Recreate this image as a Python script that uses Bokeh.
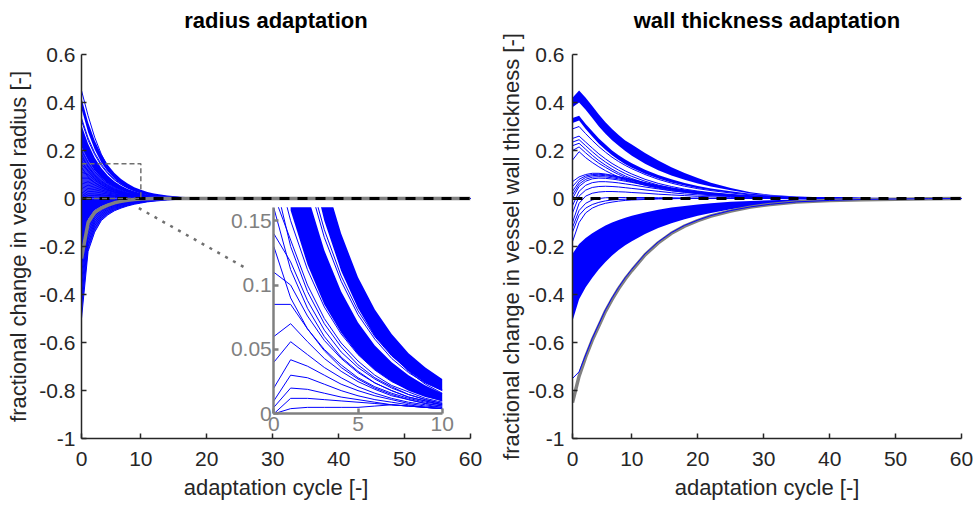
from bokeh.plotting import figure
from bokeh.models import Range1d, LinearAxis, FixedTicker, BoxAnnotation
from bokeh.layouts import row
from bokeh.embed import file_html
from bokeh.resources import INLINE

# ---------------- data ----------------
# radius adaptation: cycle positions (axis tick "0" sits at cycle position 1)
RX = [1, 2, 3, 4, 5, 6, 7, 8, 9, 10, 11, 12, 14, 16, 20, 60]
r_top = [0.45, 0.345, 0.255, 0.185, 0.133, 0.095, 0.067, 0.047, 0.033, 0.023, 0.016, 0.011, 0.005, 0.002, 0, 0]
r_bandA_hi = [0.418, 0.318, 0.242, 0.184, 0.140, 0.106, 0.081, 0.062, 0.047, 0.036, 0.027, 0.021, 0.012, 0.007, 0.002, 0]
r_bandA_lo = [0.374, 0.276, 0.204, 0.150, 0.111, 0.082, 0.060, 0.045, 0.033, 0.024, 0.018, 0.013, 0.007, 0.004, 0.001, 0]
r_B1 = [0.335, 0.252, 0.19, 0.143, 0.107, 0.080, 0.060, 0.045, 0.034, 0.025, 0.019, 0.014, 0.008, 0.004, 0.001, 0]
r_B2 = [0.325, 0.243, 0.183, 0.137, 0.103, 0.077, 0.058, 0.043, 0.032, 0.024, 0.018, 0.013, 0.007, 0.004, 0.001, 0]
r_bandC_hi = [0.305, 0.228, 0.170, 0.127, 0.095, 0.071, 0.053, 0.040, 0.030, 0.022, 0.016, 0.012, 0.007, 0.004, 0.001, 0]
r_bandC_lo = [0.215, 0.158, 0.116, 0.085, 0.063, 0.046, 0.034, 0.025, 0.018, 0.013, 0.010, 0.007, 0.004, 0.002, 0.001, 0]
r_F1 = [0.20, 0.15, 0.112, 0.083, 0.062, 0.046, 0.034, 0.025, 0.019, 0.014, 0.010, 0.008, 0.004, 0.002, 0.001, 0]
r_F2 = [0.17, 0.135, 0.10, 0.074, 0.055, 0.041, 0.030, 0.022, 0.017, 0.012, 0.009, 0.007, 0.004, 0.002, 0.001, 0]
r_F3 = [0.14, 0.118, 0.088, 0.065, 0.048, 0.036, 0.027, 0.020, 0.015, 0.011, 0.008, 0.006, 0.003, 0.002, 0, 0]
r_F4 = [0.11, 0.10, 0.076, 0.057, 0.043, 0.032, 0.024, 0.018, 0.013, 0.010, 0.007, 0.005, 0.003, 0.001, 0, 0]
r_F5 = [0.085, 0.085, 0.066, 0.050, 0.038, 0.028, 0.021, 0.016, 0.012, 0.009, 0.007, 0.005, 0.003, 0.001, 0, 0]
r_F6 = [0.06, 0.07, 0.056, 0.043, 0.033, 0.025, 0.019, 0.014, 0.011, 0.008, 0.006, 0.004, 0.002, 0.001, 0, 0]
r_F7 = [0.04, 0.056, 0.046, 0.036, 0.028, 0.021, 0.016, 0.012, 0.009, 0.007, 0.005, 0.004, 0.002, 0.001, 0, 0]
r_F8 = [0.02, 0.042, 0.037, 0.030, 0.023, 0.018, 0.014, 0.011, 0.008, 0.006, 0.005, 0.003, 0.002, 0.001, 0, 0]
r_F9 = [0.01, 0.03, 0.028, 0.023, 0.018, 0.014, 0.011, 0.009, 0.007, 0.005, 0.004, 0.003, 0.002, 0.001, 0, 0]
r_F10 = [0.005, 0.02, 0.019, 0.016, 0.013, 0.011, 0.009, 0.007, 0.006, 0.005, 0.004, 0.003, 0.002, 0.001, 0, 0]
r_F11 = [0.0, 0.012, 0.012, 0.011, 0.010, 0.009, 0.008, 0.007, 0.006, 0.005, 0.004, 0.003, 0.002, 0.001, 0, 0]
r_F12 = [0.0, 0.004, 0.005, 0.005, 0.005, 0.005, 0.006, 0.007, 0.006, 0.005, 0.004, 0.003, 0.002, 0.001, 0, 0]
r_F13 = [0.13, 0.09, 0.066, 0.049, 0.036, 0.027, 0.020, 0.015, 0.011, 0.008, 0.006, 0.005, 0.002, 0.001, 0, 0]
r_F14 = [0.16, 0.112, 0.082, 0.060, 0.044, 0.033, 0.024, 0.018, 0.013, 0.010, 0.007, 0.005, 0.003, 0.001, 0, 0]
r_F15 = [0.185, 0.13, 0.095, 0.07, 0.052, 0.038, 0.028, 0.021, 0.015, 0.011, 0.008, 0.006, 0.003, 0.001, 0, 0]
r_N1 = [-0.5, -0.22, -0.14, -0.092, -0.068, -0.051, -0.04, -0.031, -0.024, -0.019, -0.014, -0.011, -0.006, -0.003, -0.001, 0]
r_N2 = [-0.45, -0.20, -0.125, -0.083, -0.061, -0.046, -0.036, -0.028, -0.021, -0.016, -0.012, -0.009, -0.005, -0.002, 0, 0]
r_N3 = [-0.41, -0.185, -0.113, -0.075, -0.055, -0.041, -0.032, -0.025, -0.019, -0.014, -0.011, -0.008, -0.004, -0.002, 0, 0]
r_N4 = [-0.37, -0.17, -0.102, -0.068, -0.049, -0.037, -0.028, -0.022, -0.017, -0.013, -0.01, -0.007, -0.004, -0.002, 0, 0]
r_N5 = [-0.34, -0.155, -0.092, -0.061, -0.044, -0.033, -0.025, -0.019, -0.015, -0.011, -0.008, -0.006, -0.003, -0.001, 0, 0]
r_N6 = [-0.31, -0.14, -0.082, -0.054, -0.039, -0.029, -0.022, -0.017, -0.013, -0.01, -0.007, -0.005, -0.003, -0.001, 0, 0]
r_N7 = [-0.28, -0.125, -0.073, -0.048, -0.035, -0.026, -0.019, -0.015, -0.011, -0.008, -0.006, -0.004, -0.002, -0.001, 0, 0]
r_N8 = [-0.26, -0.112, -0.065, -0.044, -0.031, -0.022, -0.016, -0.012, -0.009, -0.007, -0.005, -0.003, -0.002, -0.001, 0, 0]
r_bandN_lo = [-0.22, -0.085, -0.048, -0.032, -0.022, -0.015, -0.01, -0.006, -0.004, -0.002, -0.001, 0, 0, 0, 0, 0]
r_zero = [0, 0, 0, 0, 0, 0, 0, 0, 0, 0, 0, 0, 0, 0, 0, 0]
r_ref = [-0.25, -0.10, -0.058, -0.04, -0.028, -0.018, -0.012, -0.007, -0.004, -0.002, -0.001, 0, 0, 0, 0, 0]

# wall thickness adaptation
WX = [1, 2, 3, 4, 5, 6, 7, 8, 9, 10, 12, 14, 16, 18, 20, 22, 25, 28, 31, 35, 40, 45, 50, 55, 60]
w_bandA_hi = [0.42, 0.45, 0.42, 0.385, 0.35, 0.318, 0.29, 0.265, 0.242, 0.225, 0.19, 0.158, 0.13, 0.106, 0.085, 0.066, 0.044, 0.026, 0.016, 0.008, 0.004, 0.002, 0.001, 0, 0]
w_bandA_lo = [0.38, 0.40, 0.37, 0.335, 0.30, 0.27, 0.243, 0.22, 0.198, 0.178, 0.145, 0.118, 0.096, 0.078, 0.063, 0.05, 0.034, 0.021, 0.013, 0.007, 0.003, 0.001, 0, 0, 0]
w_bandB_hi = [0.335, 0.345, 0.31, 0.28, 0.25, 0.225, 0.20, 0.18, 0.162, 0.147, 0.12, 0.098, 0.08, 0.065, 0.052, 0.042, 0.03, 0.02, 0.013, 0.007, 0.003, 0.001, 0, 0, 0]
w_bandB_lo = [0.315, 0.325, 0.29, 0.258, 0.228, 0.203, 0.18, 0.16, 0.143, 0.128, 0.103, 0.083, 0.067, 0.054, 0.043, 0.034, 0.024, 0.016, 0.01, 0.005, 0.002, 0.001, 0, 0, 0]
w_C1 = [0.25, 0.26, 0.235, 0.21, 0.186, 0.165, 0.146, 0.13, 0.115, 0.102, 0.08, 0.063, 0.05, 0.039, 0.031, 0.024, 0.017, 0.011, 0.007, 0.004, 0.002, 0.001, 0, 0, 0]
w_C2 = [0.235, 0.245, 0.22, 0.195, 0.172, 0.152, 0.134, 0.118, 0.104, 0.092, 0.072, 0.056, 0.044, 0.034, 0.027, 0.021, 0.014, 0.009, 0.006, 0.003, 0.001, 0, 0, 0, 0]
w_C3 = [0.16, 0.195, 0.17, 0.15, 0.132, 0.116, 0.102, 0.09, 0.079, 0.07, 0.055, 0.043, 0.033, 0.026, 0.02, 0.016, 0.011, 0.007, 0.004, 0.002, 0.001, 0, 0, 0, 0]
w_C4 = [0.22, 0.23, 0.205, 0.18, 0.158, 0.139, 0.122, 0.107, 0.094, 0.083, 0.065, 0.05, 0.039, 0.03, 0.023, 0.018, 0.012, 0.008, 0.005, 0.002, 0.001, 0, 0, 0, 0]
w_C5 = [0.29, 0.30, 0.27, 0.242, 0.216, 0.193, 0.172, 0.154, 0.138, 0.124, 0.1, 0.08, 0.064, 0.051, 0.041, 0.033, 0.023, 0.015, 0.01, 0.005, 0.002, 0.001, 0, 0, 0]
w_C6 = [0.2, 0.215, 0.19, 0.167, 0.147, 0.13, 0.114, 0.1, 0.088, 0.078, 0.061, 0.047, 0.037, 0.028, 0.022, 0.017, 0.011, 0.007, 0.004, 0.002, 0.001, 0, 0, 0, 0]
w_D1 = [0.07, 0.09, 0.10, 0.105, 0.105, 0.102, 0.097, 0.091, 0.085, 0.079, 0.066, 0.054, 0.044, 0.035, 0.028, 0.022, 0.015, 0.01, 0.006, 0.003, 0.001, 0, 0, 0, 0]
w_D2 = [0.03, 0.07, 0.088, 0.095, 0.097, 0.095, 0.091, 0.086, 0.08, 0.074, 0.062, 0.051, 0.041, 0.033, 0.026, 0.02, 0.014, 0.009, 0.006, 0.003, 0.001, 0, 0, 0, 0]
w_D3 = [0.0, 0.05, 0.072, 0.082, 0.085, 0.084, 0.081, 0.077, 0.072, 0.067, 0.056, 0.046, 0.037, 0.03, 0.024, 0.019, 0.013, 0.008, 0.005, 0.002, 0.001, 0, 0, 0, 0]
w_D4 = [-0.03, 0.03, 0.055, 0.066, 0.07, 0.07, 0.068, 0.065, 0.061, 0.057, 0.048, 0.04, 0.032, 0.026, 0.021, 0.016, 0.011, 0.007, 0.004, 0.002, 0.001, 0, 0, 0, 0]
w_D5 = [-0.06, 0.01, 0.035, 0.046, 0.05, 0.051, 0.05, 0.048, 0.045, 0.042, 0.036, 0.03, 0.024, 0.019, 0.015, 0.012, 0.008, 0.005, 0.003, 0.001, 0, 0, 0, 0, 0]
w_D6 = [-0.1, -0.02, 0.01, 0.022, 0.027, 0.029, 0.029, 0.028, 0.027, 0.025, 0.022, 0.018, 0.015, 0.012, 0.009, 0.007, 0.005, 0.003, 0.002, 0.001, 0, 0, 0, 0, 0]
w_D7 = [-0.12, -0.05, -0.02, -0.006, 0.0, 0.003, 0.004, 0.004, 0.004, 0.004, 0.004, 0.003, 0.003, 0.002, 0.002, 0.001, 0.001, 0, 0, 0, 0, 0, 0, 0, 0]
w_D8 = [-0.14, -0.07, -0.04, -0.025, -0.016, -0.01, -0.006, -0.004, -0.003, -0.002, -0.001, 0, 0, 0, 0, 0, 0, 0, 0, 0, 0, 0, 0, 0, 0]
w_D9 = [-0.18, -0.1, -0.06, -0.04, -0.028, -0.02, -0.015, -0.011, -0.008, -0.006, -0.004, -0.002, -0.001, 0, 0, 0, 0, 0, 0, 0, 0, 0, 0, 0, 0]
w_D10 = [0.05, 0.08, 0.094, 0.1, 0.101, 0.099, 0.094, 0.089, 0.083, 0.077, 0.064, 0.052, 0.042, 0.034, 0.027, 0.021, 0.014, 0.009, 0.006, 0.003, 0.001, 0, 0, 0, 0]
w_D11 = [0.015, 0.06, 0.08, 0.089, 0.091, 0.09, 0.086, 0.082, 0.076, 0.07, 0.059, 0.048, 0.039, 0.031, 0.025, 0.02, 0.013, 0.009, 0.005, 0.003, 0.001, 0, 0, 0, 0]
w_bandN_hi = [-0.23, -0.19, -0.165, -0.145, -0.128, -0.113, -0.10, -0.09, -0.08, -0.072, -0.058, -0.047, -0.038, -0.031, -0.025, -0.02, -0.014, -0.01, -0.007, -0.004, -0.002, -0.001, 0, 0, 0]
w_bandN_lo = [-0.51, -0.42, -0.37, -0.33, -0.295, -0.265, -0.238, -0.215, -0.195, -0.178, -0.148, -0.123, -0.103, -0.086, -0.072, -0.06, -0.045, -0.034, -0.025, -0.017, -0.01, -0.006, -0.003, -0.001, 0]
w_edge = [-0.75, -0.722, -0.652, -0.583, -0.523, -0.464, -0.414, -0.37, -0.33, -0.295, -0.231, -0.181, -0.142, -0.112, -0.09, -0.071, -0.05, -0.035, -0.024, -0.014, -0.008, -0.004, -0.002, -0.001, 0]
w_ref = [-0.85, -0.74, -0.66, -0.59, -0.53, -0.47, -0.42, -0.375, -0.335, -0.30, -0.235, -0.185, -0.145, -0.115, -0.092, -0.073, -0.052, -0.036, -0.025, -0.015, -0.008, -0.005, -0.003, -0.001, 0]

ZERO_X = [1, 60]
ZERO_Y = [0, 0]

# tick positions / labels
X_TICKS = [1, 10, 20, 30, 40, 50, 60]
X_LABELS = ["0", "10", "20", "30", "40", "50", "60"]
Y_TICKS = [-1, -0.8, -0.6, -0.4, -0.2, 0, 0.2, 0.4, 0.6]
Y_LABELS = ["-1", "-0.8", "-0.6", "-0.4", "-0.2", "0", "0.2", "0.4", "0.6"]
INSET_X_TICKS = [1, 6, 11]
INSET_X_LABELS = ["0", "5", "10"]
INSET_Y_TICKS = [0, 0.05, 0.1, 0.15]
INSET_Y_LABELS = ["0", "0.05", "0.1", "0.15"]

# ---------------- layout / style ----------------
FONT = "Liberation Sans"
BLUE = "#0000ff"
GRAY = "#808080"
AXC = "#262626"
H = 505
FW, FH = 389, 384
BT, BB = 54, 67
TITLE_GAP = 22  # px between title text box and frame top

INSET_X = (1, 11)
INSET_Y = (0, 0.1605)
INSET_L, INSET_R, INSET_T, INSET_B = 192.3, 360.7, 152.7, 359.3  # px inside frame
ZOOM_BOX = (1, 10, 0, 0.145)
CONNECT = ((9.7, -0.04), (25.9, -0.29))


def style_axis(ax, color, width, size, ticks, labels, standoff):
    ax.ticker = FixedTicker(ticks=ticks)
    ax.major_label_overrides = {t: l for t, l in zip(ticks, labels)}
    ax.axis_line_color = color
    ax.axis_line_width = width
    ax.major_tick_line_color = color
    ax.major_tick_line_width = width
    ax.major_tick_in = 5
    ax.major_tick_out = 0
    ax.minor_tick_line_color = None
    ax.major_label_text_font = FONT
    ax.major_label_text_font_size = size
    ax.major_label_text_color = color
    ax.major_label_standoff = standoff


def make_fig(title, ylabel, width, bl, br, ystand, ylab_stand):
    p = figure(width=width, height=H, x_range=Range1d(1, 60), y_range=Range1d(-1, 0.6),
               output_backend="svg", toolbar_location=None,
               min_border_left=bl, min_border_right=br,
               min_border_top=BT, min_border_bottom=BB)
    p.outline_line_color = None
    p.xgrid.visible = False
    p.ygrid.visible = False
    xa, ya = p.below[0], p.left[0]
    style_axis(xa, AXC, 1.5, "21px", X_TICKS, X_LABELS, 13)
    style_axis(ya, AXC, 1.5, "21px", Y_TICKS, Y_LABELS, ystand)
    for ax, lab, st in ((xa, "adaptation cycle [-]", 6), (ya, ylabel, ylab_stand)):
        ax.axis_label = lab
        ax.axis_label_text_font = FONT
        ax.axis_label_text_font_size = "22px"
        ax.axis_label_text_font_style = "normal"
        ax.axis_label_text_color = AXC
        ax.axis_label_standoff = st
    # panel title: label of a bare axis above the frame (exact vertical placement)
    ta = LinearAxis(ticker=FixedTicker(ticks=[]), axis_line_color=None,
                    major_tick_line_color=None, minor_tick_line_color=None,
                    major_tick_in=0, major_tick_out=0, minor_tick_in=0, minor_tick_out=0,
                    major_label_standoff=0, major_label_text_font_size="0px",
                    axis_label=title, axis_label_standoff=TITLE_GAP,
                    axis_label_text_font=FONT, axis_label_text_font_size="22px",
                    axis_label_text_font_style="bold", axis_label_text_color="black")
    p.add_layout(ta, "above")
    return p


# ---------------- radius panel ----------------
p1 = make_fig("radius adaptation", "fractional change in vessel radius [-]", 489, 81, 19, 6, 5)

# inset ranges mapped onto a sub-rectangle of the frame
sx = (INSET_X[1] - INSET_X[0]) / (INSET_R - INSET_L)
sy = (INSET_Y[1] - INSET_Y[0]) / (INSET_B - INSET_T)
ix = Range1d(INSET_X[0] - INSET_L * sx, INSET_X[0] + (FW - INSET_L) * sx)
iy = Range1d(INSET_Y[0] - (FH - INSET_B) * sy, INSET_Y[1] + INSET_T * sy)
p1.extra_x_ranges = {"ix": ix}
p1.extra_y_ranges = {"iy": iy}

pos_lines = [r_top, r_B1, r_B2, r_F1, r_F2, r_F3, r_F4, r_F5, r_F6, r_F7, r_F8,
             r_F9, r_F10, r_F11, r_F12, r_F13, r_F14, r_F15]
neg_lines = [r_N1, r_N2, r_N3, r_N4, r_N5, r_N6, r_N7, r_N8]
n_in = 11  # cycles shown in the inset (positions 1..11)


def first_shown(lo, hi):
    """Skip leading points whose whole segment lies above the inset window."""
    i = 0
    while hi[i] > iy.end or lo[i + 1] > INSET_Y[1]:
        i += 1
    return i


# inset content (lowest drawing level, then masked above the inset top)
for lo, hi in ((r_bandA_lo, r_bandA_hi), (r_bandC_lo, r_bandC_hi)):
    s = first_shown(lo, hi)
    p1.varea(x=RX[s:n_in], y1=lo[s:n_in], y2=hi[s:n_in], fill_color=BLUE,
             x_range_name="ix", y_range_name="iy", level="image")
starts = [first_shown(c, c) for c in pos_lines]
p1.multi_line(xs=[RX[s:n_in] for s in starts],
              ys=[c[s:n_in] for c, s in zip(pos_lines, starts)],
              line_color=BLUE, line_width=1, x_range_name="ix", y_range_name="iy",
              level="image")
cover = BoxAnnotation(left=INSET_X[0] - 0.15, right=INSET_X[1] + 0.3, bottom=INSET_Y[1],
                      top=iy.end, x_range_name="ix", y_range_name="iy",
                      fill_color="white", fill_alpha=1.0, line_color=None,
                      level="underlay")
p1.add_layout(cover)

# main content
p1.varea(x=RX, y1=r_zero, y2=r_bandC_lo, fill_color=BLUE, fill_alpha=0.8)
p1.varea(x=RX, y1=r_N1, y2=r_bandN_lo, fill_color=BLUE, fill_alpha=0.8)
for lo, hi in ((r_bandA_lo, r_bandA_hi), (r_bandC_lo, r_bandC_hi), (r_bandN_lo, r_zero)):
    p1.varea(x=RX, y1=lo, y2=hi, fill_color=BLUE)
p1.multi_line(xs=[RX] * (len(pos_lines) + len(neg_lines)), ys=pos_lines + neg_lines,
              line_color=BLUE, line_width=1)
p1.line(RX, r_ref, line_color=GRAY, line_width=3.5)
p1.line(ZERO_X, ZERO_Y, line_color="black", line_width=3, line_dash="10 8")

x0, x1, y0, y1 = ZOOM_BOX
p1.line([x0, x1, x1, x0, x0], [y1, y1, y0, y0, y1], line_color="#707070",
        line_width=1.5, line_dash="5 3")
p1.line([CONNECT[0][0], CONNECT[1][0]], [CONNECT[0][1], CONNECT[1][1]],
        line_color="#707070", line_width=2.5, line_dash="3 6")

ixa = LinearAxis(x_range_name="ix", y_range_name="iy", fixed_location=INSET_Y[0],
                 bounds=INSET_X)
style_axis(ixa, GRAY, 2.5, "21px", INSET_X_TICKS, INSET_X_LABELS, 3)
p1.add_layout(ixa, "below")
iya = LinearAxis(x_range_name="ix", y_range_name="iy", fixed_location=INSET_X[0],
                 bounds=INSET_Y)
style_axis(iya, GRAY, 2.5, "21px", INSET_Y_TICKS, INSET_Y_LABELS, 2)
p1.add_layout(iya, "left")

# ---------------- wall thickness panel ----------------
p2 = make_fig("wall thickness adaptation", "fractional change in vessel wall thickness [-]",
              484, 83, 12, 8, 1)
for lo, hi in ((w_bandA_lo, w_bandA_hi), (w_bandB_lo, w_bandB_hi), (w_bandN_lo, w_bandN_hi)):
    p2.varea(x=WX, y1=lo, y2=hi, fill_color=BLUE)
w_lines = [w_C1, w_C2, w_C3, w_C4, w_C5, w_C6, w_D1, w_D2, w_D3, w_D4, w_D5, w_D6,
           w_D7, w_D8, w_D9, w_D10, w_D11]
p2.multi_line(xs=[WX] * len(w_lines), ys=w_lines, line_color=BLUE, line_width=1)
p2.line(WX, w_ref, line_color=GRAY, line_width=3.5)
p2.line(WX, w_edge, line_color=BLUE, line_width=1)
p2.line(ZERO_X, ZERO_Y, line_color="black", line_width=3, line_dash="10 8")

layout = row(p1, p2)
open("out.html", "w").write(file_html(layout, INLINE))
